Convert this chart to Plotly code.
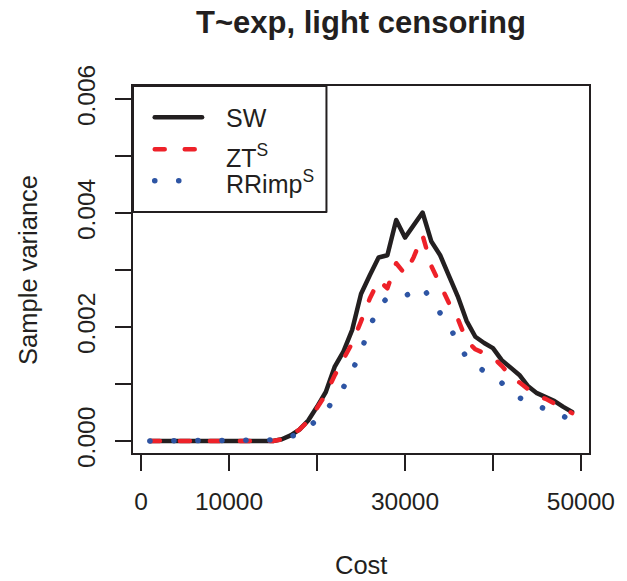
import plotly.graph_objects as go

# ---------------- data ----------------
cost = [1000, 2000, 3000, 4000, 5000, 6000, 7000, 8000, 9000, 10000,
        11000, 12000, 13000, 14000, 15000, 16000, 17000, 18000, 19000, 20000,
        21000, 22000, 23000, 24000, 25000, 26000, 27000, 28000, 29000, 30000,
        31000, 32000, 33000, 34000, 35000, 36000, 37000, 38000, 39000, 40000,
        41000, 42000, 43000, 44000, 45000, 46000, 47000, 48000, 49000]

sw = [0, 0, 0, 0, 0, 0, 0, 0, 0, 0,
      0, 0, 0, 0, 0, 0.00003, 0.00010, 0.00020, 0.00036, 0.00060,
      0.00086, 0.00130, 0.00157, 0.00195, 0.00258, 0.00291, 0.00322, 0.00326, 0.00388, 0.00357,
      0.00379, 0.00401, 0.00350, 0.00326, 0.00290, 0.00254, 0.00211, 0.00183, 0.00172, 0.00163,
      0.00142, 0.00128, 0.00116, 0.00096, 0.00084, 0.00077, 0.00070, 0.00060, 0.00051]

zt = [0, 0, 0, 0, 0, 0, 0, 0, 0, 0,
      0, 0, 0, 0, 0, 0.00003, 0.00010, 0.00020, 0.00035, 0.00058,
      0.00082, 0.00115, 0.00142, 0.00172, 0.00210, 0.00250, 0.00282, 0.00268, 0.00312, 0.00293,
      0.00323, 0.00361, 0.00307, 0.00274, 0.00242, 0.00215, 0.00176, 0.00161, 0.00155, 0.00147,
      0.00132, 0.00114, 0.00103, 0.00090, 0.00079, 0.00074, 0.00065, 0.00056, 0.00049]

rrimp = [0, 0, 0, 0, 0, 0, 0, 0, 0, 0,
         0, 0, 0, 0, 0, 0.00002, 0.00007, 0.00014, 0.00023, 0.00038,
         0.00053, 0.00074, 0.00094, 0.00123, 0.00158, 0.00200, 0.00236, 0.00251, 0.00253, 0.00254,
         0.00264, 0.00270, 0.00247, 0.00225, 0.00202, 0.00174, 0.00146, 0.00132, 0.00123, 0.00114,
         0.00102, 0.00087, 0.00076, 0.00068, 0.00062, 0.00056, 0.00049, 0.00044, 0.00037]

x_labeled_ticks = [0, 10000, 30000, 50000]
x_ticktext = ["0", "10000", "30000", "50000"]
y_labeled_ticks = [0, 0.002, 0.004, 0.006]
y_ticktext = ["0.000", "0.002", "0.004", "0.006"]

series_names = ["SW", "ZT<sup>S</sup>", "RRimp<sup>S</sup>"]

# ---------------- style ----------------
FONT = "Liberation Sans, Arial, Helvetica, sans-serif"
INK = "#231F20"
BLACK = "#231F20"
RED = "#EE2129"
BLUE = "#2E55A4"

W, H = 627, 581
L, R, T, B = 133, 32, 86, 128
PW, PH = W - L - R, H - T - B


def px(xp):
    return (xp - L) / PW


def py(yp):
    return (H - B - yp) / PH


fig = go.Figure()
fig.add_trace(go.Scatter(x=cost, y=sw, mode="lines", name="SW", showlegend=False,
                         line=dict(color=BLACK, width=4.5)))
fig.add_trace(go.Scatter(x=cost, y=zt, mode="lines", name="ZT^S", showlegend=False,
                         line=dict(color=RED, width=4.5, dash="10px,20px")))
fig.add_trace(go.Scatter(x=cost, y=rrimp, mode="lines", name="RRimp^S", showlegend=False,
                         line=dict(color=BLUE, width=5.5, dash="0.1px,23.9px")))

axis_common = dict(showline=True, linecolor=INK, linewidth=2, mirror=True,
                   ticks="outside", ticklen=16, tickwidth=2, tickcolor=INK,
                   showgrid=False, zeroline=False,
                   tickfont=dict(family=FONT, size=24.5, color=INK))

fig.update_xaxes(range=[-920, 50920], tickmode="array", tickvals=x_labeled_ticks,
                 ticktext=x_ticktext, ticklabelstandoff=10,
                 minor=dict(ticks="outside", ticklen=16, tickwidth=2, tickcolor=INK,
                            tick0=0, dtick=10000, showgrid=False),
                 **axis_common)
fig.update_yaxes(range=[-0.00021, 0.00623], tickmode="array", tickvals=y_labeled_ticks,
                 ticktext=y_ticktext, tickangle=-90, ticklabelstandoff=10,
                 minor=dict(ticks="outside", ticklen=16, tickwidth=2, tickcolor=INK,
                            tick0=0, dtick=0.001, showgrid=False),
                 **axis_common)

# manual legend (R-style box)
shapes = [dict(type="rect", xref="paper", yref="paper",
               x0=0, x1=px(329), y0=py(212), y1=1,
               line=dict(color=INK, width=2), fillcolor="white", layer="above")]
leg_line_y = [117.3, 149.3, 180.7]
leg_styles = [dict(color=BLACK, width=4.5),
              dict(color=RED, width=4.5, dash="10px,20px"),
              dict(color=BLUE, width=5.5, dash="0.1px,23.9px")]
for yy, st in zip(leg_line_y, leg_styles):
    shapes.append(dict(type="line", xref="paper", yref="paper",
                       x0=px(155), x1=px(203), y0=py(yy), y1=py(yy),
                       line=st, layer="above"))

annotations = []
leg_text_y = [117.5, 155.5, 181.5]
for name, yy in zip(series_names, leg_text_y):
    annotations.append(dict(text=name, xref="paper", yref="paper",
                            x=px(225), y=py(yy), xanchor="left", yanchor="middle",
                            showarrow=False, font=dict(family=FONT, size=25, color=INK)))

annotations.append(dict(text="Cost", xref="paper", yref="paper",
                        x=0.5, y=py(565), xanchor="center", yanchor="middle",
                        showarrow=False, font=dict(family=FONT, size=25.5, color=INK)))
annotations.append(dict(text="Sample variance", xref="paper", yref="paper",
                        x=px(26), y=0.5, xanchor="center", yanchor="middle",
                        textangle=-90, showarrow=False,
                        font=dict(family=FONT, size=25.5, color=INK)))

fig.update_layout(
    width=W, height=H, autosize=False,
    margin=dict(l=L, r=R, t=T, b=B, pad=0),
    paper_bgcolor="white", plot_bgcolor="white",
    title=dict(text="T~exp, light censoring", x=0.5, xref="paper", xanchor="center",
               y=1 - 22 / H, yref="container", yanchor="middle",
               font=dict(family=FONT, size=31, color=INK, weight="bold")),
    shapes=shapes, annotations=annotations, showlegend=False,
)

post = ("document.querySelectorAll('path.js-line, .shapelayer path').forEach(function(p){"
        "p.style.strokeLinecap='round'; p.style.strokeLinejoin='round';});")
fig.write_html("out.html", post_script=post)
